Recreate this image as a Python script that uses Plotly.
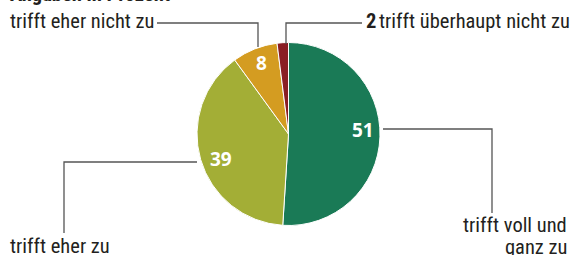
import math
import plotly.graph_objects as go

categories = ["trifft voll und ganz zu", "trifft eher zu", "trifft eher nicht zu", "trifft überhaupt nicht zu"]
values = [51, 39, 8, 2]
colors = ["#1a7a56", "#a3ae36", "#d49c21", "#8a1e24"]
title = "Angaben in Prozent"

W, H = 571, 255
cx, cy, R = 288.5, 134.0, 91.5

def px(x):
    return x / W

def py(y):
    return 1 - y / H

fig = go.Figure()
fig.add_trace(go.Pie(
    labels=categories, values=values, sort=False, direction="clockwise", rotation=0,
    marker=dict(colors=colors, line=dict(color="white", width=1)),
    textinfo="none", hoverinfo="label+value", showlegend=False,
    domain=dict(x=[px(cx - R), px(cx + R)], y=[py(cy + R), py(cy - R)]),
))

FAM = "Roboto Condensed, DejaVu Sans Condensed, sans-serif"
label_font = dict(family=FAM, size=20.5, color="#231f20")
bold_font = dict(family=FAM, size=20.5, color="#231f20", weight="bold")
num_font = dict(family="Open Sans, Noto Sans, sans-serif", size=19, color="white", weight="bold")

ann = []
total = sum(values)
# placement of the value labels: radius fraction and pixel nudge per slice
num_place = [(0.8, (1, -6)), (0.8, (3, 5)), (0.8, (0, -3)), None]
cum = 0
for i, v in enumerate(values):
    mid = (cum + v / 2) / total * 2 * math.pi
    cum += v
    if num_place[i] is None:
        continue
    rf, (dx, dy) = num_place[i]
    x = cx + rf * R * math.sin(mid) + dx
    y = cy - rf * R * math.cos(mid) + dy
    ann.append(dict(x=px(x), y=py(y), xref="paper", yref="paper", text=str(v),
                    showarrow=False, font=num_font, xanchor="center", yanchor="middle"))

def lab(x, y, text, font=label_font, xanchor="left"):
    ann.append(dict(x=px(x), y=py(y), xref="paper", yref="paper", text=text,
                    showarrow=False, font=font, xanchor=xanchor, yanchor="middle"))

lab(8, -6, title, bold_font)
lab(8, 21, categories[2])
lab(364, 21, str(values[3]), bold_font)
lab(377, 21, categories[3])
lab(569, 225, "trifft voll und", xanchor="right")
lab(569, 247, "ganz zu", xanchor="right")
lab(8, 246, categories[1])

line = dict(color="#555555", width=1.3)
segs = [
    [(157, 23), (258, 23), (258, 47)],
    [(362, 23), (286, 23), (286, 44)],
    [(383, 129), (492, 129), (492, 213)],
    [(197, 162), (64, 162), (64, 233)],
]
shapes = []
for s in segs:
    path = "M " + " L ".join(f"{px(x)} {py(y)}" for x, y in s)
    shapes.append(dict(type="path", xref="paper", yref="paper", path=path, line=line))

fig.update_layout(
    width=W, height=H, margin=dict(l=0, r=0, t=0, b=0),
    paper_bgcolor="white", plot_bgcolor="white",
    annotations=ann, shapes=shapes,
)
fig.write_html("out.html", config=dict(displayModeBar=False),
               post_script="document.body.style.margin='0';")
